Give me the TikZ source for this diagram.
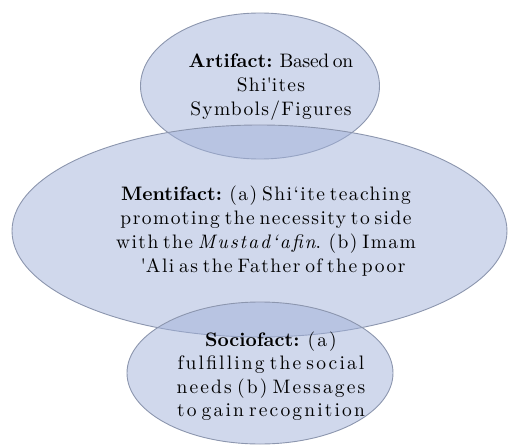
\documentclass[tikz,border=0pt]{standalone}
\usepackage{fontspec}
\setmainfont{lmroman10-regular.otf}[BoldFont=lmroman10-bold.otf, ItalicFont=lmroman10-italic.otf, BoldItalicFont=lmroman10-bolditalic.otf, WordSpace=0.6]
\usetikzlibrary{shapes.geometric}
\definecolor{ellfill}{RGB}{161,177,217}
\definecolor{elldraw}{RGB}{140,150,174}
\newcommand\hd[1]{{\bfseries\addfontfeature{LetterSpace=0}#1}}
\newcommand\tight[1]{{\addfontfeature{LetterSpace=-1.5}#1}}
\newcommand\wideit[1]{{\itshape\addfontfeature{LetterSpace=10}#1}}
\begin{document}
\begin{tikzpicture}[x=1pt,y=1pt,
  blob/.style={ellipse, draw=elldraw, line width=0.9pt, fill=ellfill, fill opacity=0.5, draw opacity=1, inner sep=0pt},
  txt/.style={align=center, text=black, font=\fontsize{19.5}{24}\selectfont\addfontfeature{LetterSpace=6.5}, inner sep=0pt},
  mtxt/.style={txt, font=\fontsize{19.5}{24}\selectfont\addfontfeature{LetterSpace=7.5}},
  wtxt/.style={txt, font=\fontsize{19.5}{23.5}\selectfont\addfontfeature{LetterSpace=11}}]
\useasboundingbox (0,0) rectangle (508,445);
\node[blob, minimum width=239pt, minimum height=146pt] (art) at (260,359) {};
\node[blob, minimum width=495pt, minimum height=212pt] (men) at (259.5,214) {};
\node[blob, minimum width=266pt, minimum height=142pt] (soc) at (260,72) {};
\node[txt] (artT) at (271,358) {\hd{Artifact:} \tight{Based on}\\ Shi\textquotesingle ites\\ Symbols/Figures};
\node[mtxt] (menT) at (266,214) {\hd{Mentifact:} (a) Shi`ite teaching\\ promoting the necessity to side\\ with the \wideit{Mustad`afin}. (b) Imam\\ \hspace*{14pt}\textquotesingle Ali as the Father of the poor};
\node[wtxt] (socT) at (271,69) {\hd{Sociofact:} (a)\\ fulfilling the social\\ needs (b) Messages\\ to gain recognition};
\end{tikzpicture}
\end{document}
